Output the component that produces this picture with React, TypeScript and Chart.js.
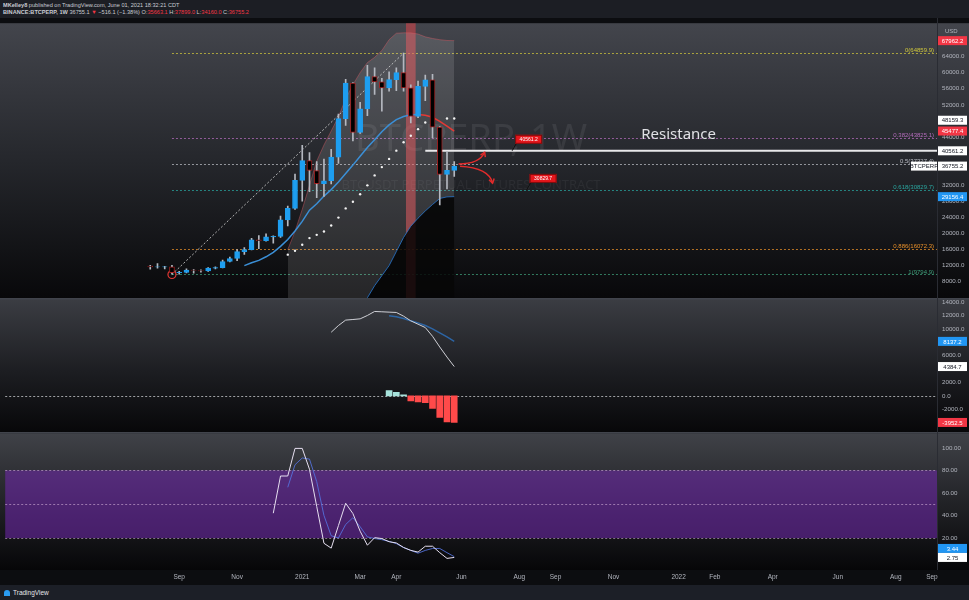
import React, { useEffect, useRef } from 'react';
import { Chart, registerables } from 'chart.js';

Chart.register(...registerables);

// ---------- time axis (weekly bars) ----------
const BASE_WEEK = '2020-09-07';
const X_MIN = -24.04;
const X_MAX = 104.7;
const tickDates = ['2020-09-07', '2020-11-02', '2021-01-04', '2021-03-01', '2021-04-05', '2021-06-07', '2021-08-02', '2021-09-06', '2021-11-01', '2022-01-03', '2022-02-07', '2022-04-04', '2022-06-06', '2022-08-01', '2022-09-05'];
const tickLabels = ['Sep', 'Nov', '2021', 'Mar', 'Apr', 'Jun', 'Aug', 'Sep', 'Nov', '2022', 'Feb', 'Apr', 'Jun', 'Aug', 'Sep'];

// ---------- price candles (weekly, from 2020-08-10) ----------
const candleStart = '2020-08-10';
const opens = [11900, 11650, 11670, 11700, 10260, 10330, 10920, 10780, 10670, 11380, 11500, 13030, 13780, 15480, 15960, 18420, 18180, 19150, 19270, 23380, 26230, 33200, 38130, 35670, 32390, 33100, 38970, 48577, 57408, 45135, 50971, 59000, 57700, 56200, 58260, 60000, 56200, 49100, 56600, 58230, 46430, 34700, 35700];
const highs = [12100, 12480, 11800, 12090, 10600, 11180, 10990, 10950, 11490, 11720, 13350, 14100, 15970, 16500, 18800, 19480, 19900, 19400, 24300, 26800, 34800, 41950, 40100, 37900, 38500, 40950, 49700, 58350, 57500, 52600, 61800, 61200, 58600, 60200, 61200, 64854, 57000, 57900, 59400, 59600, 46600, 40400, 37899];
const lows = [11120, 11380, 11150, 9875, 9900, 10200, 10140, 10370, 10530, 11200, 11400, 12900, 13200, 14800, 15900, 16200, 18100, 17600, 19000, 21900, 26000, 28000, 30400, 28900, 29200, 32300, 37400, 46900, 43000, 44900, 49300, 54600, 50400, 55400, 55500, 55400, 47500, 48800, 53000, 43800, 27100, 31100, 34160];
const closes = [11650, 11670, 11700, 10260, 10330, 10920, 10780, 10670, 11380, 11500, 13030, 13780, 15480, 15960, 18420, 18180, 19150, 19270, 23380, 26230, 33200, 38130, 35670, 32390, 33100, 38970, 48577, 57408, 45135, 50971, 59000, 57700, 56200, 58260, 60000, 56200, 49100, 56600, 58230, 46430, 34700, 35700, 36755.2];

// ---------- overlays ----------
const maStart = '2020-11-09';
const maValues = [12000, 12700, 13300, 14200, 15300, 16800, 18500, 20600, 23000, 25800, 27400, 29300, 30900, 32800, 34900, 37000, 39200, 41400, 43300, 45300, 47000, 48300, 49100, 49500, 49600, 49400, 48900, 47900, 46700, 45477.4];
const sarStart = '2020-12-21';
const sarValues = [14730, 15710, 17190, 18840, 19650, 20490, 21970, 23940, 26230, 27880, 29760, 31970, 34440, 36500, 38550, 40600, 42670, 44290, 45940, 47590, null, null, 48580, 48580];
const bbUpperStart = '2020-12-21';
const bbUpper = [16000, 20500, 26000, 32000, 38000, 42000, 45500, 49000, 53500, 57000, 60000, 62500, 63800, 65500, 68200, 69800, 69900, 69900, 69600, 68900, 68500, 68200, 68000, 67962.2];
const bbLowerStart = '2021-03-08';
const bbLower = [4000, 7000, 9500, 12000, 15500, 19000, 21800, 23800, 25600, 27200, 28700, 29100, 29156.4];
const highlightWeek = '2021-04-19';

// Fibonacci retracement drawing
const fibStartDate = '2020-08-31';
const fibEndDate = '2021-04-12';
const fibRatios = ['0', '0.382', '0.5', '0.618', '0.886', '1'];
const fibPrices = [64859.9, 43825.1, 37327.4, 30829.7, 16072.3, 9794.9];
const fibColors = ['#cfc63c', '#b46cbc', '#b9bcc4', '#2aa6a0', '#e8902a', '#3f9f7a'];

const resistanceStart = '2021-05-03';
const resistancePrice = 40561.2;

// ---------- MACD ----------
const macdStart = '2021-02-01';
const macdValues = [9500, 10500, 11310, 11400, 11500, 12000, 12600, 12550, 12500, 12450, 11900, 11200, 10700, 10200, 8900, 7300, 5800, 4384.7];
const signalStart = '2021-03-29';
const signalValues = [11950, 11800, 11550, 11200, 10900, 10500, 10000, 9400, 8800, 8137.2];
const histStart = '2021-03-29';
const histValues = [800, 540, 150, -750, -900, -1000, -1860, -3220, -3860, -3952.5];

// ---------- Stoch RSI ----------
const kStart = '2020-12-07';
const kValues = [42, 75, 75, 99.5, 99.5, 81, 48, 15.3, 11, 31, 50.8, 41.7, 26, 13.6, 20.3, 19.5, 16.7, 15.6, 11.6, 9, 7.5, 12.7, 12.7, 7, 1.9, 2.75];
const dStart = '2020-12-21';
const dValues = [65, 85, 91, 90, 70, 40, 22, 20, 32, 38, 30, 21, 19.5, 18.5, 17, 15, 11.5, 9, 6.5, 9, 10.7, 10.7, 7, 3.44];

// ---------- axes ----------
const MAIN_MIN = 3800, MAIN_MAX = 72300;
const MACD_MIN = -5570, MACD_MAX = 14520;
const RSI_MIN = -8.4, RSI_MAX = 112.9;
const mainTicks = [64000, 60000, 56000, 52000, 44000, 32000, 28000, 24000, 20000, 16000, 12000, 8000];
const macdTicks = [14000, 12000, 10000, 6000, 2000, 0, -2000];
const rsiTicks = [100, 80, 60, 40, 20];
const rsiLevels = [80, 50, 20];

const axisLabels = [
  { axis: 'y', value: 67962.2, bg: '#f23645', fg: '#ffffff' },
  { axis: 'y', value: 48159.3, bg: '#ffffff', fg: '#131722' },
  { axis: 'y', value: 45477.4, bg: '#f23645', fg: '#ffffff' },
  { axis: 'y', value: 40561.2, bg: '#ffffff', fg: '#131722' },
  { axis: 'y', value: 36755.2, bg: '#ffffff', fg: '#131722' },
  { axis: 'y', value: 29156.4, bg: '#2196f3', fg: '#ffffff' },
  { axis: 'macd', value: 8137.2, bg: '#2196f3', fg: '#ffffff' },
  { axis: 'macd', value: 4384.7, bg: '#ffffff', fg: '#131722' },
  { axis: 'macd', value: -3952.5, bg: '#f23645', fg: '#ffffff' },
  { axis: 'rsi', value: 3.44, bg: '#2196f3', fg: '#ffffff', decimals: 2 },
  { axis: 'rsi', value: 2.75, bg: '#ffffff', fg: '#131722', decimals: 2 },
];

// annotations (week offset, price)
const callouts = [
  { week: 46, price: 40561.2, text: '40561.2' },
  { week: 48, price: 30829.7, text: '30829.7' },
];
const arrows = [
  { x0: 38.6, y0: 37300, cx: 41.5, cy: 37300, x1: 42.2, y1: 40200 },
  { x0: 38.8, y0: 36700, cx: 42.8, cy: 36300, x1: 43.3, y1: 32500 },
];
const resistanceText = { week: 69, price: 44500, text: 'Resistance' };

const FONT = '"Liberation Sans", Arial, sans-serif';
const UP = '#1e9ef0';

const weekOf = (d: string) => Math.round((Date.parse(d) - Date.parse(BASE_WEEK)) / 864e5) / 7;
const seriesFrom = (start: string, values: (number | null)[]) =>
  values.map((v, i) => ({ x: weekOf(start) + i, y: v }));

function drawArrow(ctx: CanvasRenderingContext2D, x0: number, y0: number, cx: number, cy: number, x1: number, y1: number) {
  ctx.beginPath();
  ctx.moveTo(x0, y0);
  ctx.quadraticCurveTo(cx, cy, x1, y1);
  ctx.stroke();
  const ang = Math.atan2(y1 - cy, x1 - cx);
  const L = 5;
  ctx.beginPath();
  ctx.moveTo(x1 - L * Math.cos(ang - 0.55), y1 - L * Math.sin(ang - 0.55));
  ctx.lineTo(x1, y1);
  ctx.lineTo(x1 - L * Math.cos(ang + 0.55), y1 - L * Math.sin(ang + 0.55));
  ctx.stroke();
}

const panePlugin = {
  id: 'tvPanes',
  beforeDraw(chart: any) {
    const { ctx, width, height } = chart;
    const { x, y, macd, rsi } = chart.scales;
    ctx.save();
    ctx.fillStyle = '#0c0d10';
    ctx.fillRect(0, 0, width, height);
    const pane = (s: any, stops: [number, string][]) => {
      const g = ctx.createLinearGradient(0, s.top, 0, s.bottom);
      stops.forEach(([o, c]) => g.addColorStop(o, c));
      ctx.fillStyle = g;
      ctx.fillRect(0, s.top, width, s.bottom - s.top);
    };
    pane(y, [[0, '#43454c'], [0.5, '#25272c'], [1, '#08080a']]);
    pane(macd, [[0, '#3b3d43'], [0.55, '#1c1d21'], [1, '#070709']]);
    pane(rsi, [[0, '#404248'], [0.5, '#222327'], [1, '#060608']]);

    // stoch rsi band
    const p80 = rsi.getPixelForValue(80), p20 = rsi.getPixelForValue(20);
    ctx.fillStyle = 'rgba(118,40,185,0.52)';
    ctx.fillRect(x.left, p80, x.right - x.left, p20 - p80);

    // watermark
    const cx = (x.left + x.right) / 2;
    ctx.textAlign = 'center';
    ctx.textBaseline = 'middle';
    ctx.fillStyle = 'rgba(255,255,255,0.075)';
    ctx.font = '38px "Noto Sans"';
    ctx.fillText('BTCPERP, 1W', cx, y.top + 117);
    ctx.font = '13px "Noto Sans"';
    ctx.fillStyle = 'rgba(255,255,255,0.05)';
    ctx.fillText('BTCUSDT PERPETUAL FUTURES CONTRACT', cx, y.top + 162);

    // dotted horizontal levels
    ctx.lineWidth = 1;
    ctx.setLineDash([2, 2]);
    const fx = x.getPixelForValue(weekOf(fibStartDate));
    fibPrices.forEach((p, i) => {
      const py = Math.round(y.getPixelForValue(p)) + 0.5;
      ctx.strokeStyle = fibColors[i];
      ctx.globalAlpha = 0.75;
      ctx.beginPath();
      ctx.moveTo(fx, py);
      ctx.lineTo(x.right, py);
      ctx.stroke();
    });
    ctx.globalAlpha = 1;
    const zy = Math.round(macd.getPixelForValue(0)) + 0.5;
    ctx.strokeStyle = 'rgba(220,220,225,0.7)';
    ctx.beginPath();
    ctx.moveTo(x.left, zy);
    ctx.lineTo(x.right, zy);
    ctx.stroke();
    ctx.strokeStyle = 'rgba(210,175,215,0.6)';
    rsiLevels.forEach((l) => {
      const ly = Math.round(rsi.getPixelForValue(l)) + 0.5;
      ctx.beginPath();
      ctx.moveTo(x.left, ly);
      ctx.lineTo(x.right, ly);
      ctx.stroke();
    });
    ctx.setLineDash([]);
    ctx.restore();
  },
  afterDatasetsDraw(chart: any) {
    const { ctx } = chart;
    const { x, y } = chart.scales;
    ctx.save();
    // Resistance text
    ctx.font = '15px "Noto Sans"';
    ctx.fillStyle = '#dfe0e4';
    ctx.textAlign = 'center';
    ctx.textBaseline = 'middle';
    ctx.fillText(resistanceText.text, x.getPixelForValue(resistanceText.week), y.getPixelForValue(resistanceText.price));

    // red arrows
    ctx.strokeStyle = '#e32b2b';
    ctx.lineWidth = 1.5;
    arrows.forEach((a) => {
      drawArrow(ctx,
        x.getPixelForValue(a.x0), y.getPixelForValue(a.y0),
        x.getPixelForValue(a.cx), y.getPixelForValue(a.cy),
        x.getPixelForValue(a.x1), y.getPixelForValue(a.y1));
    });

    // callouts
    callouts.forEach((c) => {
      const tx = x.getPixelForValue(c.week);
      const ty = y.getPixelForValue(c.price);
      ctx.strokeStyle = '#111';
      ctx.lineWidth = 1;
      ctx.beginPath();
      ctx.moveTo(tx, ty);
      ctx.lineTo(tx + 4, ty - 7);
      ctx.stroke();
      ctx.fillStyle = '#e5161c';
      ctx.fillRect(tx + 3, ty - 16, 27, 9);
      ctx.strokeStyle = '#7a0c0c';
      ctx.strokeRect(tx + 3.5, ty - 15.5, 26, 8);
      ctx.fillStyle = '#ffffff';
      ctx.font = `5px ${FONT}`;
      ctx.textAlign = 'center';
      ctx.fillText(c.text, tx + 16.5, ty - 11.5);
    });

    // fib labels
    ctx.font = `6px ${FONT}`;
    ctx.textAlign = 'right';
    ctx.textBaseline = 'middle';
    fibPrices.forEach((p, i) => {
      ctx.fillStyle = fibColors[i];
      ctx.fillText(`${fibRatios[i]}(${p.toFixed(1)})`, x.right - 3, y.getPixelForValue(p) - 2.5);
    });
    ctx.restore();
  },
  afterDraw(chart: any) {
    const { ctx, width } = chart;
    const { x, y, macd, rsi } = chart.scales;
    ctx.save();
    // pane separators
    ctx.fillStyle = '#41444c';
    ctx.fillRect(0, Math.round(y.bottom) - 1, width, 1.5);
    ctx.fillRect(0, Math.round(macd.bottom) - 1, width, 1.5);
    ctx.fillStyle = '#2a2c33';
    ctx.fillRect(x.right, 0, 1, rsi.bottom);

    // USD
    ctx.font = `6px ${FONT}`;
    ctx.fillStyle = '#b2b5be';
    ctx.textAlign = 'left';
    ctx.textBaseline = 'middle';
    ctx.fillText('USD', x.right + 8, y.top + 8);

    // price boxes
    const H = 9;
    const scales: any = { y, macd, rsi };
    ['y', 'macd', 'rsi'].forEach((ax) => {
      const items = axisLabels
        .filter((l) => l.axis === ax)
        .map((l) => ({ ...l, py: scales[ax].getPixelForValue(l.value) }))
        .sort((a, b) => a.py - b.py);
      for (let i = items.length - 2; i >= 0; i--) {
        if (items[i].py > items[i + 1].py - H) items[i].py = items[i + 1].py - H;
      }
      items.forEach((l) => {
        const top = l.py - H / 2;
        ctx.fillStyle = l.bg;
        ctx.fillRect(x.right + 1, top, 29, H);
        ctx.fillStyle = l.fg;
        ctx.font = `6px ${FONT}`;
        ctx.textAlign = 'center';
        ctx.fillText(l.value.toFixed((l as any).decimals ?? 1), x.right + 15.5, l.py + 0.5);
        if (l.value === 36755.2) {
          ctx.fillStyle = '#ffffff';
          ctx.fillRect(x.right - 26, top, 26, H);
          ctx.fillStyle = '#131722';
          ctx.fillText('BTCPERP', x.right - 13, l.py + 0.5);
        }
      });
    });
    ctx.restore();
  },
};

export default function App() {
  const canvasRef = useRef<HTMLCanvasElement | null>(null);

  useEffect(() => {
    if (!canvasRef.current) return;
    const w0 = weekOf(candleStart);
    const isUp = closes.map((c, i) => c >= opens[i]);
    const bodyData = opens.map((o, i) => ({ x: w0 + i, y: [o, closes[i]] }));
    const wickData = lows.map((l, i) => ({ x: w0 + i, y: [l, highs[i]] }));
    const upColor = '#3b8fd6';
    const downColor = '#e53935';

    const yCommon = (weight: number, min: number, max: number, ticksArr: number[], decimals: number) => ({
      type: 'linear',
      position: 'right',
      stack: 'panes',
      stackWeight: weight,
      min,
      max,
      offset: false,
      grid: { display: false, drawTicks: false },
      border: { display: false },
      afterBuildTicks: (s: any) => { s.ticks = ticksArr.map((v) => ({ value: v })); },
      afterFit: (s: any) => { s.width = 32; s.paddingTop = 0; s.paddingBottom = 0; },
      ticks: {
        autoSkip: false,
        padding: 5,
        color: '#b2b5be',
        font: { size: 6.2, family: FONT },
        callback: (v: any) => Number(v).toFixed(decimals),
      },
    });

    const chart = new Chart(canvasRef.current, {
      type: 'bar',
      data: {
        datasets: [
          // highlight column
          { type: 'bar', data: [{ x: weekOf(highlightWeek), y: [MAIN_MIN, MAIN_MAX] }], yAxisID: 'y', barThickness: 9, backgroundColor: 'rgba(220,70,75,0.55)', borderWidth: 0, grouped: false, order: 20 } as any,
          // bollinger-like envelope
          { type: 'line', data: seriesFrom(bbUpperStart, bbUpper), yAxisID: 'y', borderColor: 'rgba(225,90,100,0.4)', borderWidth: 1, pointRadius: 0, fill: 'start', backgroundColor: 'rgba(255,255,255,0.12)', order: 16 } as any,
          { type: 'line', data: seriesFrom(bbLowerStart, bbLower), yAxisID: 'y', borderColor: 'rgba(40,120,210,0.8)', borderWidth: 1, pointRadius: 0, fill: 'start', backgroundColor: 'rgba(0,0,0,0.82)', order: 15 } as any,
          // fib trend line
          { type: 'line', data: [{ x: weekOf(fibStartDate), y: fibPrices[5] }, { x: weekOf(fibEndDate), y: fibPrices[0] }], yAxisID: 'y', borderColor: 'rgba(215,215,215,0.8)', borderWidth: 1, borderDash: [2, 2], pointRadius: [4, 0], pointBorderColor: '#e53935', pointBackgroundColor: 'rgba(0,0,0,0)', pointBorderWidth: 1.2, fill: false, order: 12 } as any,
          // moving average
          { type: 'line', data: seriesFrom(maStart, maValues), yAxisID: 'y', borderColor: upColor, borderWidth: 1.5, pointRadius: 0, fill: false, order: 8,
            segment: { borderColor: (c: any) => (c.p1.parsed.y < c.p0.parsed.y ? downColor : upColor) } } as any,
          // SAR dots
          { type: 'line', data: seriesFrom(sarStart, sarValues), yAxisID: 'y', showLine: false, pointRadius: 1.2, pointBackgroundColor: '#f2f2f2', pointBorderWidth: 0, order: 7 } as any,
          // resistance line
          { type: 'line', data: [{ x: weekOf(resistanceStart), y: resistancePrice }, { x: X_MAX, y: resistancePrice }], yAxisID: 'y', borderColor: '#e8e8ea', borderWidth: 2, pointRadius: 0, fill: false, order: 6 } as any,
          // candles
          { type: 'bar', data: wickData, yAxisID: 'y', barThickness: 1, backgroundColor: '#b4b8c0', borderWidth: 0, grouped: false, order: 5 } as any,
          { type: 'bar', data: bodyData, yAxisID: 'y', barThickness: 5, backgroundColor: isUp.map((u) => (u ? UP : '#000000')), borderColor: isUp.map((u) => (u ? UP : 'rgba(170,30,30,0.9)')), borderWidth: 1, borderSkipped: false, grouped: false, order: 4 } as any,
          // MACD
          { type: 'bar', data: seriesFrom(histStart, histValues), yAxisID: 'macd', barThickness: 6, backgroundColor: histValues.map((v) => (v >= 0 ? '#a7e3dc' : '#ff4a4a')), borderWidth: 0, grouped: false, order: 3 } as any,
          { type: 'line', data: seriesFrom(signalStart, signalValues), yAxisID: 'macd', borderColor: 'rgba(45,110,185,0.85)', borderWidth: 1.5, pointRadius: 0, fill: false, order: 2 } as any,
          { type: 'line', data: seriesFrom(macdStart, macdValues), yAxisID: 'macd', borderColor: '#cfd0d6', borderWidth: 1, pointRadius: 0, fill: false, order: 1 } as any,
          // Stoch RSI
          { type: 'line', data: seriesFrom(dStart, dValues), yAxisID: 'rsi', borderColor: 'rgba(85,115,225,0.85)', borderWidth: 1, pointRadius: 0, fill: false, order: 2 } as any,
          { type: 'line', data: seriesFrom(kStart, kValues), yAxisID: 'rsi', borderColor: '#e6dff0', borderWidth: 1, pointRadius: 0, fill: false, order: 1 } as any,
        ],
      },
      options: {
        animation: false,
        responsive: false,
        devicePixelRatio: 1,
        events: [],
        layout: { padding: 0 },
        plugins: { legend: { display: false }, tooltip: { enabled: false } },
        scales: {
          x: {
            type: 'linear',
            min: X_MIN,
            max: X_MAX,
            offset: false,
            position: 'bottom',
            grid: { display: false, drawTicks: false },
            border: { display: false },
            afterBuildTicks: (s: any) => { s.ticks = tickDates.map((d) => ({ value: weekOf(d) })); },
            afterFit: (s: any) => { s.height = 15; s.paddingLeft = 0; s.paddingRight = 0; },
            ticks: {
              autoSkip: false,
              maxRotation: 0,
              minRotation: 0,
              padding: 3,
              color: '#b2b5be',
              font: { size: 6.5, family: FONT },
              callback: (v: any) => {
                const i = tickDates.findIndex((d) => Math.abs(weekOf(d) - Number(v)) < 0.01);
                return i >= 0 ? tickLabels[i] : '';
              },
            },
          },
          y: yCommon(278, MAIN_MIN, MAIN_MAX, mainTicks, 1),
          macd: yCommon(136, MACD_MIN, MACD_MAX, macdTicks, 1),
          rsi: yCommon(138, RSI_MIN, RSI_MAX, rsiTicks, 2),
        } as any,
      },
      plugins: [panePlugin],
    } as any);
    return () => chart.destroy();
  }, []);

  const red = { color: '#f23645' };
  return (
    <div style={{ position: 'fixed', left: 0, top: 0, width: 969, height: 600, background: '#131722', overflow: 'hidden' }}>
      <div style={{ position: 'absolute', left: 0, top: 0, width: 969, height: 18, background: '#1c1e24', color: '#c9ccd3', fontFamily: FONT, fontSize: 5.6, lineHeight: '7px', padding: '2px 0 0 3px', boxSizing: 'border-box', whiteSpace: 'nowrap' }}>
        <div><b>MKelley8</b> published on TradingView.com, June 01, 2021 18:32:21 CDT</div>
        <div>
          <b>BINANCE:BTCPERP, 1W</b> 36755.1 <span style={red}>▼</span> −516.1 (−1.38%) O:<span style={red}>35663.1</span> H:<span style={red}>37899.0</span> L:<span style={red}>34160.0</span> C:<span style={red}>36755.2</span>
        </div>
      </div>
      <canvas ref={canvasRef} width={969} height={567} style={{ position: 'absolute', left: 0, top: 18, width: 969, height: 567, display: 'block' }} />
      <div style={{ position: 'absolute', left: 0, top: 585, width: 969, height: 15, background: '#1c1f27', display: 'flex', alignItems: 'center', paddingLeft: 3, boxSizing: 'border-box' }}>
        <svg width="8" height="8" viewBox="0 0 8 8" style={{ marginRight: 2 }}>
          <path d="M1 7 L1 4 Q1 1 4 1 Q7 1 7 4 L7 7 Z" fill="#2a9df4" />
        </svg>
        <span style={{ color: '#e6e7ea', fontFamily: FONT, fontSize: 6.5 }}>TradingView</span>
      </div>
    </div>
  );
}
